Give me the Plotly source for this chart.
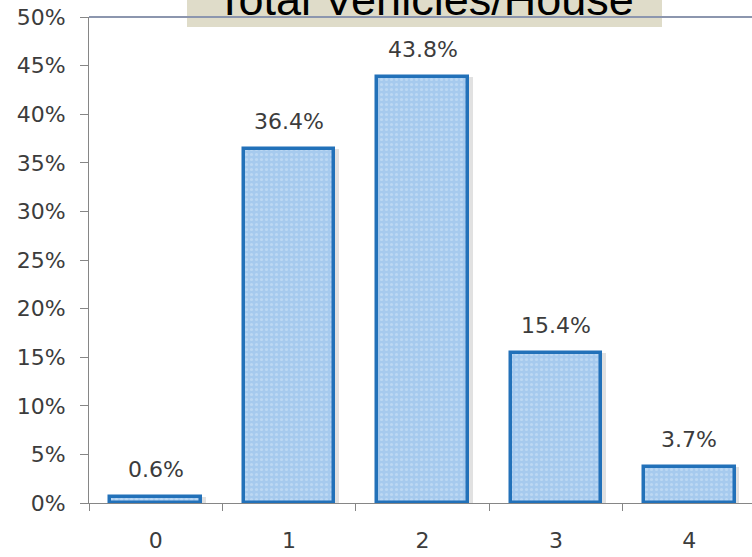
import plotly.graph_objects as go

# Share of households by number of vehicles owned
vehicles = ["0", "1", "2", "3", "4"]
share = [0.6, 36.4, 43.8, 15.4, 3.7]
y_ticks = [0, 5, 10, 15, 20, 25, 30, 35, 40, 45, 50]
y_tick_text = [f"{v}%" for v in y_ticks]
title_text = "Total Vehicles/House"

W, H = 752, 557
L, R, T, B = 89, 0, 17, 54
plot_w = W - L - R
plot_h = H - T - B
x_range = [-0.5, -0.5 + plot_w / 133.4]


def px_x(p):
    return (p - L) / plot_w


def px_y(p):
    return (H - B - p) / plot_h


label_font = dict(family="DejaVu Sans", size=22, color="#3C3C3C")
bar_width = 0.68

fig = go.Figure()

# soft drop shadow behind each bar
fig.add_trace(go.Bar(
    x=vehicles, y=share, width=bar_width, offset=-bar_width / 2 + 0.035,
    marker=dict(color="rgba(90,90,90,0.18)", line=dict(width=0)),
    hoverinfo="skip", showlegend=False,
))

fig.add_trace(go.Bar(
    x=vehicles, y=share, width=bar_width, offset=-bar_width / 2,
    marker=dict(
        color="#A6CAEE",
        line=dict(color="#2271B9", width=3.5),
        pattern=dict(shape=".", bgcolor="#A6CAEE", fgcolor="#D2E5F8",
                     size=5, solidity=0.3),
    ),
    showlegend=False,
))

# value labels above bars
for cat, val in zip(vehicles, share):
    fig.add_annotation(
        x=cat, y=val, text=f"{val:.1f}%", showarrow=False,
        yanchor="bottom", yshift=13, font=label_font,
    )

# title banner
fig.add_shape(
    type="rect", xref="paper", yref="paper",
    x0=px_x(187), x1=px_x(662), y0=px_y(27), y1=px_y(-5),
    fillcolor="#DFDCC9", line=dict(width=0), layer="above",
)
fig.add_annotation(
    xref="paper", yref="paper", x=px_x(425), y=px_y(27),
    text=title_text, showarrow=False, xanchor="center", yanchor="bottom",
    font=dict(family="Liberation Sans", size=45, color="#000000"),
)

# top border of the plot area
fig.add_shape(
    type="line", xref="paper", yref="paper",
    x0=0, x1=1, y0=1, y1=1, line=dict(color="#8C96AE", width=2),
)

fig.update_layout(
    width=W, height=H,
    margin=dict(l=L, r=R, t=T, b=B),
    paper_bgcolor="white", plot_bgcolor="white",
    barmode="overlay", bargap=0,
    showlegend=False,
)
fig.update_xaxes(
    type="category", range=x_range, tickson="boundaries",
    ticks="outside", ticklen=7, tickcolor="#868686",
    showline=True, linecolor="#868686", linewidth=1,
    showgrid=False, tickfont=label_font, ticklabelstandoff=18,
    fixedrange=True,
)
fig.update_yaxes(
    range=[0, 50], tickvals=y_ticks, ticktext=y_tick_text,
    ticks="outside", ticklen=8, tickcolor="#868686",
    showline=True, linecolor="#868686", linewidth=1,
    showgrid=False, zeroline=False, tickfont=label_font,
    ticklabelstandoff=10, fixedrange=True,
)

fig.write_html("out.html")
